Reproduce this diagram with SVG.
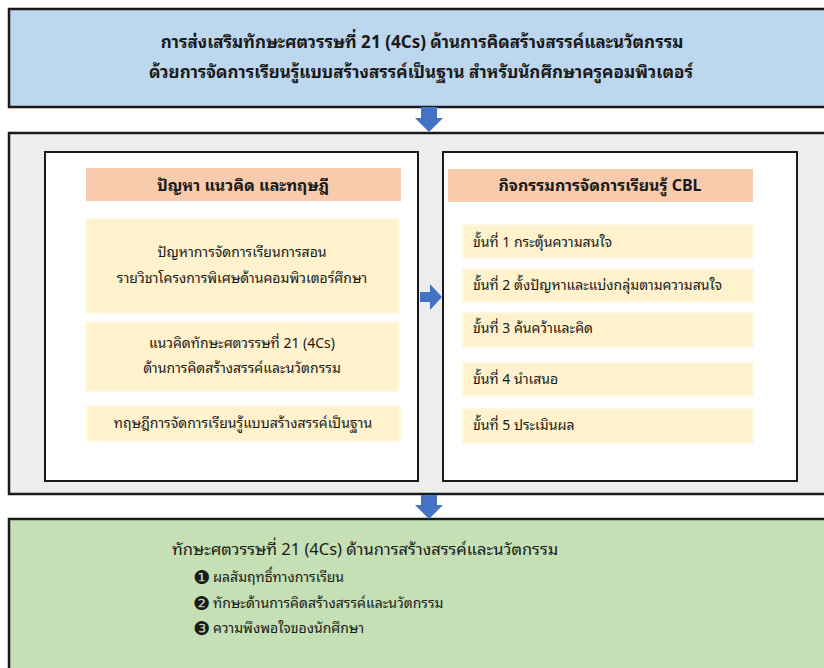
<svg xmlns="http://www.w3.org/2000/svg" width="824" height="668" viewBox="0 0 824 668">
<defs>
<style>
.t{font-family:"Noto Sans Thai Looped","Noto Sans Thai","Noto Sans","Liberation Sans",sans-serif;fill:#1a1a1a;}
.title{font-size:17px;font-weight:bold;text-anchor:middle;}
.hd{font-size:16px;font-weight:bold;text-anchor:middle;}
.bx{font-size:14px;text-anchor:middle;}
.st{font-size:14px;}
.out{font-size:16.5px;}
.bul{font-family:"DejaVu Sans",sans-serif;font-size:19px;fill:#1a1a1a;}
.frame{stroke:#1a1a1a;stroke-width:2.5;}
.inner{fill:#ffffff;stroke:#1a1a1a;stroke-width:2;}
.hdr{fill:#F8CBAD;}
.yel{fill:#FFF2CC;stroke:#FFF7DE;stroke-width:2;}
.arr{fill:#4472C4;}
</style>
</defs>
<rect width="824" height="668" fill="#ffffff"/>
<g id="top">
<rect x="9" y="9" width="830" height="98" fill="#BDD7EE" class="frame"/>
<text class="t title" x="422" y="48">การส่งเสริมทักษะศตวรรษที่ 21 (4Cs) ด้านการคิดสร้างสรรค์และนวัตกรรม</text>
<text class="t title" x="421" y="78">ด้วยการจัดการเรียนรู้แบบสร้างสรรค์เป็นฐาน สำหรับนักศึกษาครูคอมพิวเตอร์</text>
</g>
<g id="middle">
<rect x="9" y="133" width="830" height="361" fill="#EDEDED" class="frame"/>
</g>
<g id="left-panel">
<rect x="45" y="152" width="373" height="329" class="inner"/>
<rect x="86" y="168" width="315" height="33" class="hdr"/>
<text class="t hd" x="243" y="191">ปัญหา แนวคิด และทฤษฎี</text>
<rect x="86" y="219" width="312" height="94" class="yel"/>
<text class="t bx" x="242" y="257">ปัญหาการจัดการเรียนการสอน</text>
<text class="t bx" x="242" y="283">รายวิชาโครงการพิเศษด้านคอมพิวเตอร์ศึกษา</text>
<rect x="86" y="322" width="312" height="69" class="yel"/>
<text class="t bx" x="242" y="348">แนวคิดทักษะศตวรรษที่ 21 (4Cs)</text>
<text class="t bx" x="242" y="373">ด้านการคิดสร้างสรรค์และนวัตกรรม</text>
<rect x="87" y="406" width="313" height="35" class="yel"/>
<text class="t bx" x="243" y="428">ทฤษฎีการจัดการเรียนรู้แบบสร้างสรรค์เป็นฐาน</text>
</g>
<g id="right-panel">
<rect x="443" y="152" width="354" height="329" class="inner"/>
<rect x="448" y="169" width="305" height="33" class="hdr"/>
<text class="t hd" x="600" y="191">กิจกรรมการจัดการเรียนรู้ CBL</text>
<rect x="463" y="225" width="290" height="33" class="yel"/>
<text class="t st" x="473" y="247">ขั้นที่ 1 กระตุ้นความสนใจ</text>
<rect x="463" y="269" width="290" height="33" class="yel"/>
<text class="t st" x="473" y="290">ขั้นที่ 2 ตั้งปัญหาและแบ่งกลุ่มตามความสนใจ</text>
<rect x="463" y="313" width="290" height="34" class="yel"/>
<text class="t st" x="473" y="333">ขั้นที่ 3 ค้นคว้าและคิด</text>
<rect x="463" y="363" width="290" height="33" class="yel"/>
<text class="t st" x="473" y="384">ขั้นที่ 4 นำเสนอ</text>
<rect x="463" y="409" width="290" height="34" class="yel"/>
<text class="t st" x="473" y="430">ขั้นที่ 5 ประเมินผล</text>
</g>
<g id="bottom">
<rect x="9" y="519" width="830" height="160" fill="#C5E0B4" class="frame"/>
<text class="t out" x="172" y="555">ทักษะศตวรรษที่ 21 (4Cs) ด้านการสร้างสรรค์และนวัตกรรม</text>
<text class="bul" x="193" y="584">❶</text>
<text class="t st" x="213" y="582">ผลสัมฤทธิ์ทางการเรียน</text>
<text class="bul" x="193" y="610">❷</text>
<text class="t st" x="213" y="608">ทักษะด้านการคิดสร้างสรรค์และนวัตกรรม</text>
<text class="bul" x="193" y="635">❸</text>
<text class="t st" x="213" y="633">ความพึงพอใจของนักศึกษา</text>
</g>
<g id="connectors">
<polygon class="arr" points="421,107 437,107 437,118 443,118 429,132 415,118 421,118"/>
<polygon class="arr" points="420,292 430,292 430,284 442,297 430,310 430,302 420,302"/>
<polygon class="arr" points="421,495 437,495 437,505 443,505 429,519 415,505 421,505"/>
</g>
</svg>
